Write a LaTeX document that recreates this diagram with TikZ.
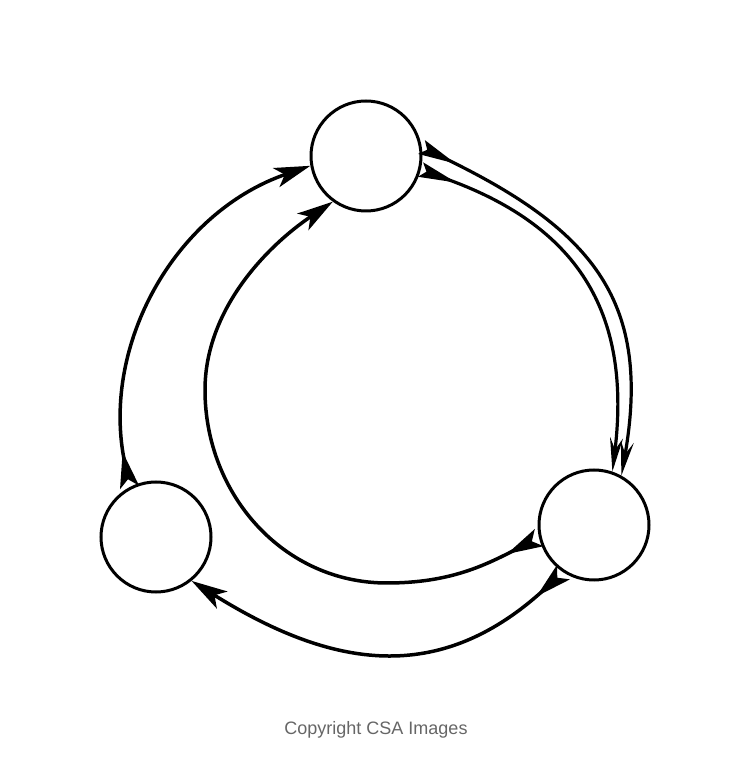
\documentclass[tikz,border=0pt]{standalone}
\usepackage{fontspec}
\setmainfont{Liberation Sans}
\usetikzlibrary{arrows.meta}

\tikzset{
  cell/.style={circle,draw,line width=3pt,minimum size=110pt,inner sep=0pt},
  flow/.style={line width=3.5pt,
    arrows={Stealth[reversed,length=36pt,width=19pt,inset=8pt]-Stealth[length=36pt,width=20pt,inset=9pt]}},
  pair/.style={line width=3.2pt,
    arrows={Stealth[reversed,length=38pt,width=15pt,inset=6pt]-Stealth[length=34pt,width=13pt,inset=12pt]}},
}

\begin{document}
\begin{tikzpicture}[x=1pt,y=1pt]
  \useasboundingbox (0,0) rectangle (750,758);
  \node[cell] (top) at (366,602) {};
  \node[cell] (rgt) at (594,233) {};
  \node[cell] (lft) at (156,221) {};
  \coordinate (low) at (387,175);
  \coordinate (far) at (205,368);
  \path[flow]
    (lft.118) edge[out=101,in=199] (top.190)
    (top.9) edge[pair,out=-26,in=80,out distance=192pt,in distance=175pt] (rgt.61)
    (top.-14) edge[pair,out=-20,in=83,out distance=172pt,in distance=155pt] (rgt.71)
    (rgt.237) edge[out=222,in=-32,looseness=1.15] (lft.309);
  \draw[flow] (rgt.193) to[out=207,in=0] (low)
    to[out=180,in=-90] (far)
    to[out=90,in=214,looseness=0.9] (top.234);
  \node[text=black!60,font=\fontsize{18}{20}\selectfont] (credit) at (376,28) {Copyright CSA Images};
\end{tikzpicture}
\end{document}
